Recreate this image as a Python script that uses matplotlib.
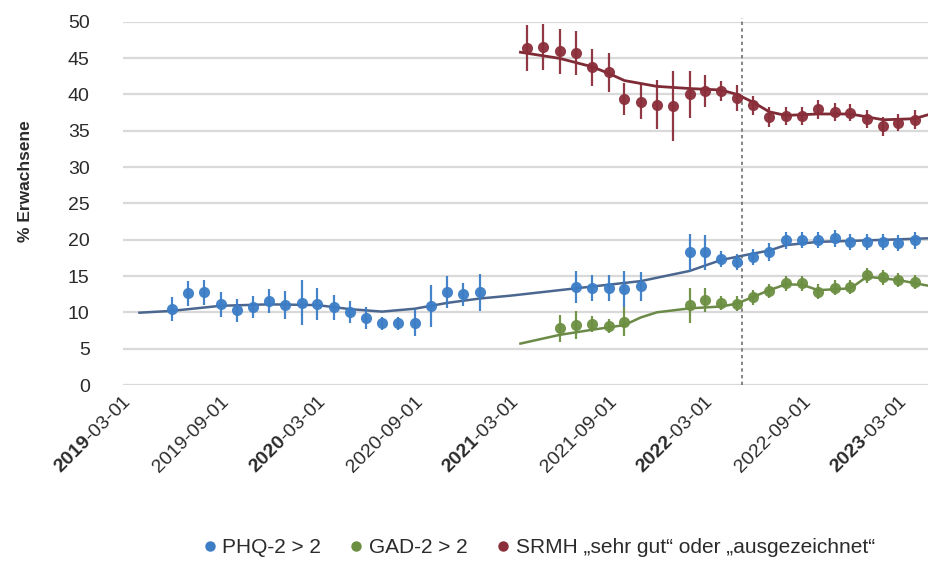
import matplotlib
matplotlib.use("Agg")
import matplotlib.pyplot as plt
from matplotlib.lines import Line2D
import pandas as pd

# ---------------- data ----------------
tick_dates = ["2019-03-01", "2019-09-01", "2020-03-01", "2020-09-01", "2021-03-01",
              "2021-09-01", "2022-03-01", "2022-09-01", "2023-03-01"]
tick_labels = [r"$\mathbf{2019}$-03-01", "2019-09-01", r"$\mathbf{2020}$-03-01", "2020-09-01",
               r"$\mathbf{2021}$-03-01", "2021-09-01", r"$\mathbf{2022}$-03-01", "2022-09-01",
               r"$\mathbf{2023}$-03-01"]

phq_dates = (["2019-%02d-01" % m for m in range(6, 13)] + ["2020-%02d-01" % m for m in range(1, 13)]
             + ["2021-01-01"] + ["2021-%02d-01" % m for m in range(7, 12)]
             + ["2022-%02d-01" % m for m in range(2, 13)] + ["2023-%02d-01" % m for m in range(1, 5)])
phq_vals = [10.45, 12.6, 12.75, 11.1, 10.3, 10.75, 11.55, 11.0, 11.3, 11.1,
            10.7, 10.0, 9.25, 8.5, 8.5, 8.6, 10.9, 12.85, 12.5, 12.75,
            13.5, 13.4, 13.3, 13.2, 13.6,
            18.25, 18.25, 17.4, 16.9, 17.65, 18.3, 19.9, 20.0, 19.9, 20.2,
            19.7, 19.7, 19.7, 19.5, 19.9]
phq_err = [1.7, 1.7, 1.7, 1.7, 1.6, 1.5, 1.7, 1.9, 3.1, 2.2,
           1.7, 1.5, 1.5, 0.9, 0.9, 1.8, 2.9, 2.2, 1.6, 2.5,
           2.2, 1.8, 1.8, 2.5, 2.0,
           2.6, 2.4, 1.1, 1.1, 1.1, 1.3, 1.2, 1.1, 1.1, 1.2,
           1.1, 1.1, 1.1, 1.1, 1.2]

gad_dates = (["2021-%02d-01" % m for m in range(6, 11)]
             + ["2022-%02d-01" % m for m in range(2, 13)] + ["2023-%02d-01" % m for m in range(1, 5)])
gad_vals = [7.8, 8.25, 8.35, 8.1, 8.7,
            11.0, 11.7, 11.3, 11.2, 12.05, 12.95, 14.0, 14.0, 12.85, 13.4,
            13.5, 15.1, 14.8, 14.45, 14.2]
gad_err = [1.9, 1.95, 1.1, 1.0, 2.0,
           2.4, 1.6, 1.0, 1.0, 1.0, 1.0, 1.0, 1.0, 1.0, 1.0,
           1.0, 1.0, 1.0, 1.0, 1.0]

srmh_dates = (["2021-%02d-01" % m for m in range(4, 13)]
              + ["2022-%02d-01" % m for m in range(1, 13)] + ["2023-%02d-01" % m for m in range(1, 5)])
srmh_vals = [46.4, 46.5, 45.9, 45.7, 43.7, 43.05, 39.4, 39.0, 38.6, 38.4,
             40.0, 40.45, 40.45, 39.5, 38.5, 36.9, 37.05, 37.05, 37.95, 37.6,
             37.5, 36.6, 35.6, 36.1, 36.5]
srmh_err = [3.2, 3.2, 3.1, 3.0, 2.6, 2.7, 2.2, 2.4, 3.4, 4.8,
            3.2, 2.2, 1.4, 1.8, 1.3, 1.4, 1.2, 1.2, 1.3, 1.2,
            1.2, 1.2, 1.3, 1.2, 1.3]

# smoothed trend lines
phq_trend_dates = ["2019-04-01", "2019-06-01", "2019-09-01", "2019-12-01", "2020-03-01",
                   "2020-05-01", "2020-07-01", "2020-09-01", "2020-11-01", "2021-01-01",
                   "2021-03-01", "2021-07-01", "2021-11-01", "2022-02-01", "2022-04-01",
                   "2022-06-01", "2022-07-01", "2022-08-01", "2022-10-01", "2023-01-01",
                   "2023-05-01"]
phq_trend_vals = [9.95, 10.2, 10.9, 11.1, 11.0, 10.45, 10.1, 10.5, 11.3, 11.9,
                  12.3, 13.3, 14.3, 15.7, 17.2, 18.1, 18.5, 19.25, 19.7, 19.9, 20.2]

gad_trend_dates = ["2021-03-19", "2021-06-01", "2021-08-01", "2021-10-01", "2021-11-01",
                   "2021-12-01", "2022-02-01", "2022-04-01", "2022-05-01", "2022-07-01",
                   "2022-08-01", "2022-09-01", "2022-10-01", "2022-12-01", "2023-01-01",
                   "2023-03-01", "2023-05-01"]
gad_trend_vals = [5.7, 6.9, 7.6, 8.25, 9.3, 10.0, 10.55, 10.8, 11.2, 13.05,
                  13.85, 13.8, 13.05, 13.3, 14.9, 14.45, 13.6]

srmh_trend_dates = ["2021-03-19", "2021-06-01", "2021-08-01", "2021-09-01", "2021-10-01",
                    "2021-12-01", "2022-02-01", "2022-04-01", "2022-05-01", "2022-06-01",
                    "2022-07-01", "2022-08-01", "2022-10-01", "2022-12-01", "2023-02-01",
                    "2023-04-01", "2023-05-01"]
srmh_trend_vals = [45.8, 44.95, 43.8, 42.9, 41.9, 41.1, 40.8, 40.6, 40.0, 38.9,
                   37.6, 37.1, 37.3, 37.3, 36.5, 36.65, 37.3]

marker_date = "2022-05-10"
series_names = ["PHQ-2 > 2", "GAD-2 > 2", "SRMH \u201esehr gut\u201c oder \u201eausgezeichnet\u201c"]
y_ticks = [0, 5, 10, 15, 20, 25, 30, 35, 40, 45, 50]

# ---------------- style ----------------
plt.rcParams["font.family"] = ["Liberation Sans", "DejaVu Sans"]
plt.rcParams["mathtext.fontset"] = "custom"
plt.rcParams["mathtext.rm"] = "Liberation Sans"
plt.rcParams["mathtext.bf"] = "Liberation Sans:bold"
plt.rcParams["mathtext.it"] = "Liberation Sans:italic"

c_blue, c_green, c_red = "#3C7DC6", "#6C8F42", "#8A2E3A"
t_blue, t_green, t_red = "#4B6790", "#6B8A48", "#7E2B36"
txt = "#2b2b2b"

fig = plt.figure(figsize=(9.29, 5.63), dpi=100)
ax = fig.add_axes([123 / 929, 178 / 563, 806 / 929, 363.3 / 563])

d = pd.to_datetime

# trend lines
ax.plot(d(phq_trend_dates), phq_trend_vals, color=t_blue, lw=1.8, zorder=2)
ax.plot(d(gad_trend_dates), gad_trend_vals, color=t_green, lw=1.8, zorder=2)
ax.plot(d(srmh_trend_dates), srmh_trend_vals, color=t_red, lw=2.0, zorder=2)

for dates, vals, err, col in [(phq_dates, phq_vals, phq_err, c_blue),
                              (gad_dates, gad_vals, gad_err, c_green),
                              (srmh_dates, srmh_vals, srmh_err, c_red)]:
    ax.errorbar(d(dates), vals, yerr=err, fmt="o", color=col, ecolor=col, elinewidth=1.6,
                capsize=0, markersize=8, markeredgewidth=0, zorder=3, clip_on=False, alpha=0.95)

ax.axvline(d(marker_date), color="#6f6f6f", lw=1.2, ls=(0, (2, 2)), zorder=1, ymin=0, ymax=1.01,
           clip_on=False)

ax.set_ylim(0, 50)
ax.set_xlim(d("2019-03-01"), d("2023-04-28"))
ax.set_yticks(y_ticks)
ax.yaxis.grid(True, color="#d9d9d9", lw=1.6)
ax.set_axisbelow(True)
for s in ax.spines.values():
    s.set_visible(False)

ax.set_xticks(d(tick_dates))
ax.set_xticklabels(tick_labels)
ax.tick_params(axis="y", length=0, pad=24, labelsize=14, labelcolor=txt)
ax.tick_params(axis="x", length=0, pad=6, labelsize=14, labelcolor=txt)
plt.setp(ax.get_xticklabels(), rotation=45, ha="right", va="top", rotation_mode="anchor")

ax.set_ylabel("% Erwachsene", fontsize=12.5, fontweight="bold", color=txt)
ax.yaxis.set_label_coords(-0.1117, 0.5615)

handles = [Line2D([], [], marker="o", ls="", color=c, markersize=6.5) for c in (c_blue, c_green, c_red)]
fig.legend(handles, series_names, loc="center", bbox_to_anchor=(0.578, 0.027), ncol=3, frameon=False,
           fontsize=15, handletextpad=0.1, columnspacing=1.2, handlelength=1.0, labelcolor=txt)

fig.savefig("out.png", dpi=100)
